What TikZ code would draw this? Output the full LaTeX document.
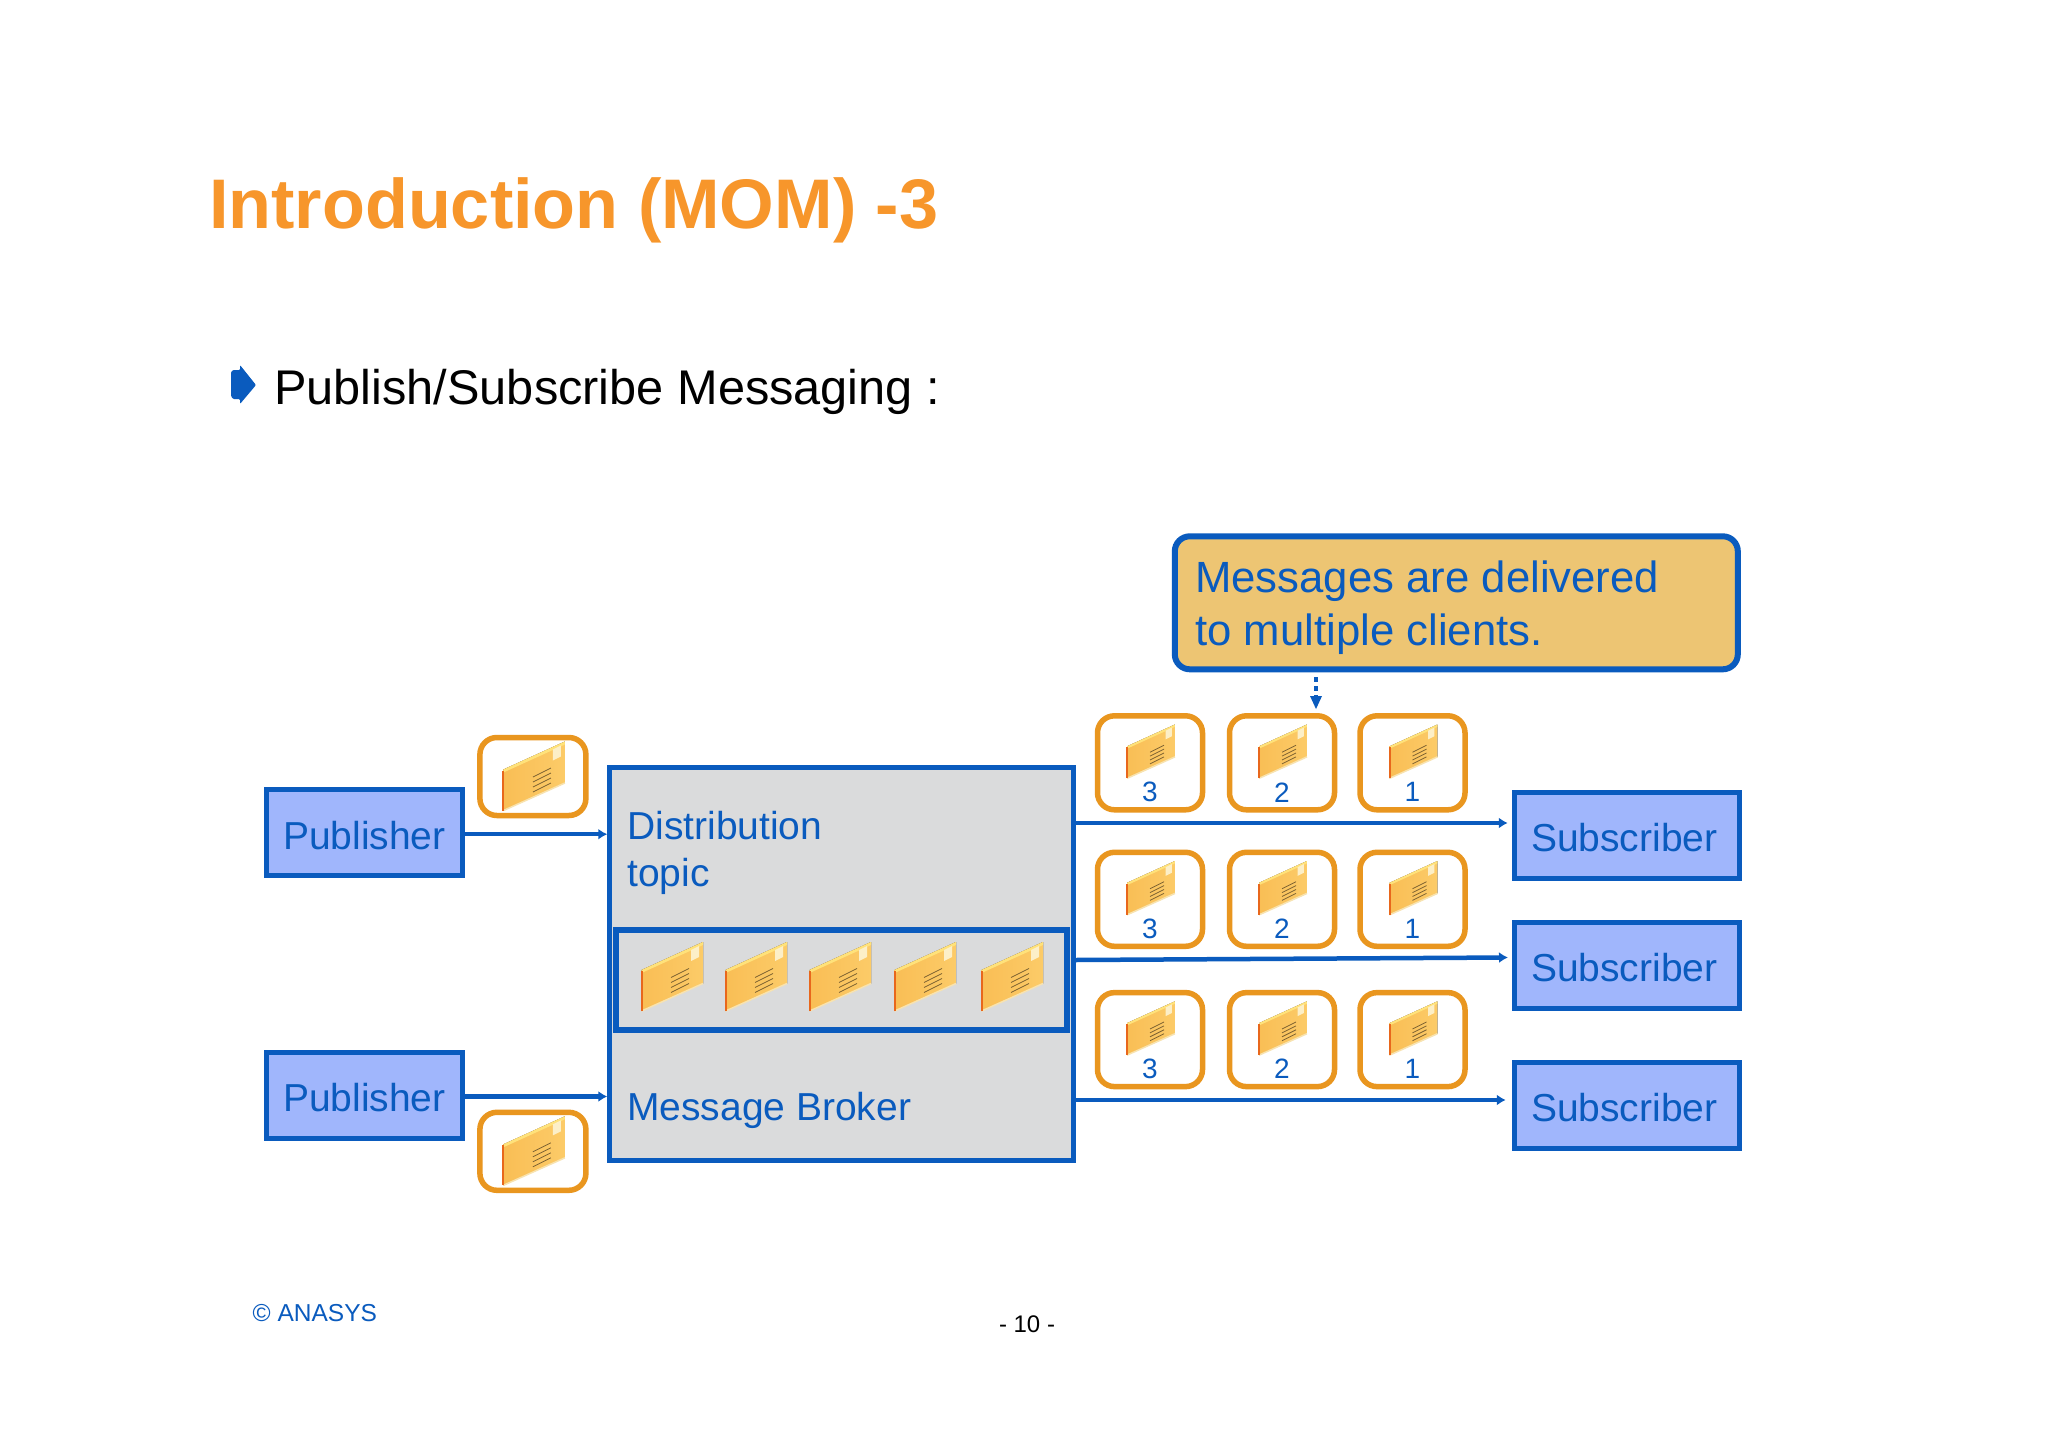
\documentclass[tikz,border=0pt]{standalone}
\usepackage{fontspec}
\setmainfont{Liberation Sans}
\usetikzlibrary{arrows.meta,calc}
\definecolor{mblue}{HTML}{0A5BBE}
\definecolor{boxfill}{HTML}{A0B6FC}
\definecolor{brokerfill}{HTML}{DADBDC}
\definecolor{calloutfill}{HTML}{EDC573}
\definecolor{cardorange}{HTML}{E9961F}
\definecolor{titleorange}{HTML}{F7962B}
\newcommand{\fs}[1]{\fontsize{#1}{#1}\selectfont}
\tikzset{
  actor/.style={draw=mblue,line width=5pt,fill=boxfill,text=mblue,minimum height=86pt,font=\fs{39},inner sep=0pt,text height=33pt,text depth=0pt},
  card/.style={draw=cardorange,line width=5.5pt,fill=white,rounded corners=17pt,inner sep=0pt},
  digit/.style={text=mblue,font=\fs{28},inner sep=0pt},
  conn/.style={draw=mblue,line width=4.5pt,-{Latex[length=9pt,width=11pt]}},
  bluetext/.style={text=mblue,font=\fs{39},inner sep=0pt,align=left},
  env/.pic={
    \fill[left color=F1,right color=F2] (-29.5,34)--(-29.5,-7)--(32,-35)--(32,6.5)--cycle;
    \fill[fill=F3] (-29.5,-7)--(32,-35)--(32,-32)--(-29.5,-4)--cycle;
    \draw[F4,line width=1.5pt] (-29.5,34)--(32,6.5);
    \draw[F5,line width=2pt] (-29.5,-6)--(-29.5,34);
    \fill[F6] (20,-27)--(28,-31)--(28,-20)--(20,-16)--cycle;
    \foreach \k in {-1.5,-0.5,0.5,1.5}
      \draw[F7,line width=.8pt] (0,8+5*\k)--(18,-1+5*\k);
  }
}
\definecolor{F1}{HTML}{F9BE55}
\definecolor{F2}{HTML}{FCCB68}
\definecolor{F3}{HTML}{FFE27A}
\definecolor{F4}{HTML}{F8E3B0}
\definecolor{F5}{HTML}{E8671C}
\definecolor{F6}{HTML}{FCEFC8}
\definecolor{F7}{HTML}{7D6232}
\begin{document}
\begin{tikzpicture}[x=1pt,y=-1pt]
\useasboundingbox (0,0) rectangle (2048,1448);
\fill[white] (0,0) rectangle (2048,1448);

\node[anchor=base west,inner sep=0pt,text=titleorange,font=\fs{70.2}\bfseries] (title) at (209,228) {Introduction (MOM) -3};
\fill[mblue,rounded corners=1pt] (240,365)--(256,385)--(240,404)--(240,399)--(233,399)--(231,396)--(231,372)--(233,370)--(240,370)--cycle;
\node[anchor=base west,inner sep=0pt,text=black,font=\fs{48.7}] (sub) at (274,404) {Publish/Subscribe Messaging :};

% broker
\node[draw=mblue,line width=5pt,fill=brokerfill,minimum width=464pt,minimum height=393pt,inner sep=0pt] (broker) at (841.8,963.9) {};
\node[draw=mblue,line width=6pt,fill=brokerfill,minimum width=451pt,minimum height=100pt,inner sep=0pt] (topic) at (841.8,980.2) {};
\node[bluetext,anchor=west] (dist) at (627,853) {Distribution\\[8pt]topic};
\node[bluetext,anchor=base west] (mb) at (627,1120) {Message Broker};
\foreach \i/\x in {1/671,2/755,3/839,4/924,5/1011}
  \path (\x,977) pic {env};

% publishers
\node[actor,minimum width=196pt] (pub1) at (364.4,832.7) {Publisher};
\node[actor,minimum width=196pt] (pub2) at (364.4,1095) {Publisher};
\node[card,minimum width=106pt,minimum height=78pt] (m1) at (532.9,776.5) {};
\node[card,minimum width=106pt,minimum height=78pt] (m2) at (532.9,1151.3) {};
\path (m1.center) pic {env};
\path (m2.center) pic {env};

% subscribers
\node[actor,minimum width=225pt] (s1) at (1626.8,835.2) {\hspace*{-5pt}Subscriber};
\node[actor,minimum width=225pt] (s2) at (1626.8,965.2) {\hspace*{-5pt}Subscriber};
\node[actor,minimum width=225pt] (s3) at (1626.8,1105) {\hspace*{-5pt}Subscriber};

% callout
\node[draw=mblue,line width=6pt,fill=calloutfill,rounded corners=15pt,minimum width=563pt,minimum height=133pt,inner sep=0pt] (call) at (1456.3,602.8) {};
\node[text=mblue,font=\fs{43.7},inner sep=0pt,align=left,anchor=west] (calltext) at (1195,608) {Messages are delivered\\[9pt]to multiple clients.};

% numbered cards
\foreach \r/\y in {1/762.8,2/899.3,3/1039.6}
  \foreach \n/\x in {3/1150,2/1282,1/1412.5}{
    \node[card,minimum width=105pt,minimum height=94pt] (c\r\n) at (\x,\y) {};
    \path (c\r\n.center)++(0,-11) pic[scale=.78] {env};
    \node[digit] (d\r\n) at ($(c\r\n.center)+(0,29.5)$) {\n};
  }

% connectors
\draw[conn] ([yshift=-1.5pt]pub1.east) -- ([yshift=-1.5pt]pub1.east -| broker.west);
\draw[conn] ([yshift=-1.5pt]pub2.east) -- ([yshift=-1.5pt]pub2.east -| broker.west);
\coordinate (a1) at (1075,823);
\coordinate (a2) at (1075,960);
\coordinate (a3) at (1075,1100);
\coordinate (b2) at (1508,957.5);
\draw[conn] (a1) -- ([xshift=-4pt]a1 -| s1.west);
\draw[conn] (a2) -- (b2);
\draw[conn] (a3) -- ([xshift=-6pt]a3 -| s3.west);
\coordinate (dot) at (1316,709);
\draw[mblue,line width=4.5pt,dash pattern=on 5pt off 4pt] ([yshift=-5pt]call.south -| dot) -- ([yshift=10pt]dot);
\draw[draw=none,fill=mblue] (dot) -- ++(-6,-13) -- ++(12,0) -- cycle;

\node[anchor=base west,inner sep=0pt,text=mblue,font=\fs{24.5}] (copy) at (252.5,1321) {© ANASYS};
\node[anchor=base,inner sep=0pt,text=black,font=\fs{24}] (page) at (1027,1332) {- 10 -};
\end{tikzpicture}
\end{document}
